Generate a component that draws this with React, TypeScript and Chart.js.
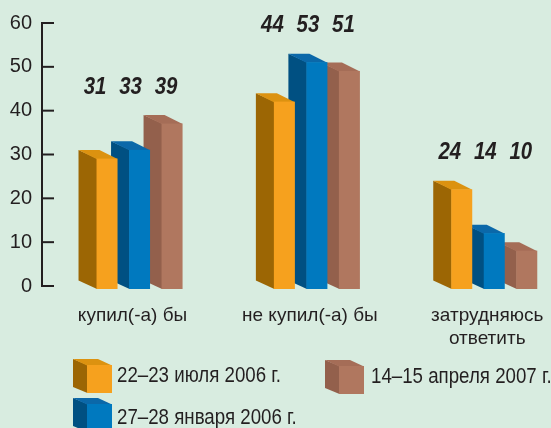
import React, { useEffect, useRef } from 'react';
import { Chart, registerables } from 'chart.js';

Chart.register(...registerables);

// ---- data ----
const categories: (string | string[])[] = ['купил(-а) бы', 'не купил(-а) бы', ['затрудняюсь', 'ответить']];
const seriesLabels = ['22–23 июля 2006 г.', '27–28 января 2006 г.', '14–15 апреля 2007 г.'];
const july2006 = [31, 44, 24];
const january2006 = [33, 53, 14];
const april2007 = [39, 51, 10];
const yTickValues = [0, 10, 20, 30, 40, 50, 60];

// ---- styles ----
const FONT = "'Liberation Sans', Arial, sans-serif";
const TEXT = '#231f20';
const BG = '#d8ece0';
const palettes = [
  { front: '#f6a11e', side: '#9c6604', top: '#dc9210' },
  { front: '#0079bf', side: '#005082', top: '#0b68a9' },
  { front: '#b0775f', side: '#93604c', top: '#a56d57' },
];
const DX = 18;
const DY = 8.5;
const DROP = 3;
const NARROW = 0.85;

function drawBox(ctx: CanvasRenderingContext2D, left: number, right: number, top: number, bottom: number, dx: number, dy: number, pal: any) {
  ctx.fillStyle = pal.side;
  ctx.beginPath();
  ctx.moveTo(left + 0.5, top);
  ctx.lineTo(left - dx, top - dy);
  ctx.lineTo(left - dx, bottom - dy);
  ctx.lineTo(left + 0.5, bottom);
  ctx.closePath();
  ctx.fill();
  ctx.fillStyle = pal.top;
  ctx.beginPath();
  ctx.moveTo(left, top + 0.5);
  ctx.lineTo(left - dx, top - dy);
  ctx.lineTo(right - dx, top - dy);
  ctx.lineTo(right, top + 0.5);
  ctx.closePath();
  ctx.fill();
  ctx.fillStyle = pal.front;
  ctx.fillRect(left, top, right - left, bottom - top);
}

function narrowText(ctx: CanvasRenderingContext2D, text: string, x: number, y: number, align: CanvasTextAlign) {
  ctx.save();
  ctx.translate(x, y);
  ctx.scale(NARROW, 1);
  ctx.textAlign = align;
  ctx.textBaseline = 'middle';
  ctx.fillText(text, 0, 0);
  ctx.restore();
}

const bars3d = {
  id: 'bars3d',
  afterDatasetsDraw(chart: any) {
    const ctx = chart.ctx;
    const ds = chart.data.datasets;
    ctx.save();
    for (let d = ds.length - 1; d >= 0; d--) {
      const meta = chart.getDatasetMeta(d);
      meta.data.forEach((bar: any) => {
        const p = bar.getProps(['x', 'y', 'base', 'width'], true);
        drawBox(ctx, p.x - p.width / 2, p.x + p.width / 2, p.y + DY, p.base + DROP, DX, DY, palettes[d]);
      });
    }
    // value labels
    const yScale = chart.scales.y;
    ctx.fillStyle = TEXT;
    ctx.font = `italic bold 24px ${FONT}`;
    categories.forEach((_, i) => {
      let max = 0;
      ds.forEach((s: any) => { max = Math.max(max, s.data[i].y); });
      const ly = yScale.getPixelForValue(max) - 28;
      ds.forEach((s: any, d: number) => {
        const bar = chart.getDatasetMeta(d).data[i];
        narrowText(ctx, String(s.data[i].y), bar.x - 9 + (d - 1) * 3, ly, 'center');
      });
    });
    ctx.restore();
  },
};

const axisPlugin = {
  id: 'axisLine',
  afterDraw(chart: any) {
    const ctx = chart.ctx;
    const y = chart.scales.y;
    const x0 = chart.chartArea.left;
    ctx.save();
    ctx.strokeStyle = TEXT;
    ctx.lineWidth = 2;
    ctx.beginPath();
    ctx.moveTo(x0, y.getPixelForValue(y.max) - 1);
    ctx.lineTo(x0, y.getPixelForValue(y.min) + 1);
    ctx.stroke();
    y.ticks.forEach((t: any) => {
      const py = y.getPixelForValue(t.value);
      ctx.beginPath();
      ctx.moveTo(x0 - 1, py);
      ctx.lineTo(x0 + 12, py);
      ctx.stroke();
    });
    ctx.restore();
  },
};

const legendSlots = [
  { fx: 87, fy: 365, tx: 117, ty: 376 },
  { fx: 87, fy: 404, tx: 117, ty: 418 },
  { fx: 339, fy: 366, tx: 371, ty: 377 },
];

const legendPlugin = {
  id: 'cubeLegend',
  afterDraw(chart: any) {
    const ctx = chart.ctx;
    ctx.save();
    chart.data.datasets.forEach((s: any, d: number) => {
      const slot = legendSlots[d];
      drawBox(ctx, slot.fx, slot.fx + 25, slot.fy, slot.fy + 28, 14, 6, palettes[d]);
      ctx.fillStyle = TEXT;
      ctx.font = `22px ${FONT}`;
      narrowText(ctx, s.label, slot.tx, slot.ty, 'left');
    });
    ctx.restore();
  },
};

export default function App() {
  const ref = useRef<HTMLCanvasElement>(null);
  useEffect(() => {
    document.body.style.margin = '0';
    const series = [july2006, january2006, april2007];
    const chart = new Chart(ref.current as HTMLCanvasElement, {
      type: 'bar',
      data: {
        datasets: series.map((vals, d) => ({
          label: seriesLabels[d],
          data: vals.map((v, i) => ({ x: i, y: v })),
          backgroundColor: 'rgba(0,0,0,0)',
          borderWidth: 0,
          categoryPercentage: 0.55,
          barPercentage: 0.646,
        })),
      },
      options: {
        responsive: false,
        animation: false,
        devicePixelRatio: 1,
        layout: { padding: { top: 23, right: 0, bottom: 82, left: 0 } },
        plugins: { legend: { display: false }, tooltip: { enabled: false } },
        scales: {
          x: {
            type: 'linear',
            min: -0.55,
            max: 2.32,
            offset: false,
            grid: { display: false, drawTicks: true, tickLength: 18 },
            border: { display: false },
            afterBuildTicks: (s: any) => { s.ticks = categories.map((_, i) => ({ value: i })); },
            afterFit: (s: any) => { s.height = 60; },
            ticks: {
              autoSkip: false,
              maxRotation: 0,
              padding: 0,
              labelOffset: -7,
              color: TEXT,
              font: { family: FONT, size: 19, lineHeight: 1.21 },
              callback: (v: any) => categories[v as number],
            },
          },
          y: {
            min: 0,
            max: 60,
            grid: { display: false, drawTicks: true, tickLength: 10 },
            border: { display: false },
            afterBuildTicks: (s: any) => { s.ticks = yTickValues.map((v) => ({ value: v })); },
            afterFit: (s: any) => { s.width = 42; },
            ticks: { padding: 0, color: TEXT, font: { family: FONT, size: 20 } },
          },
        },
      } as any,
      plugins: [bars3d, axisPlugin, legendPlugin],
    });
    return () => chart.destroy();
  }, []);
  return (
    <div style={{ width: 551, height: 428, background: BG, overflow: 'hidden' }}>
      <canvas ref={ref} width={551} height={428} style={{ display: 'block' }} />
    </div>
  );
}
